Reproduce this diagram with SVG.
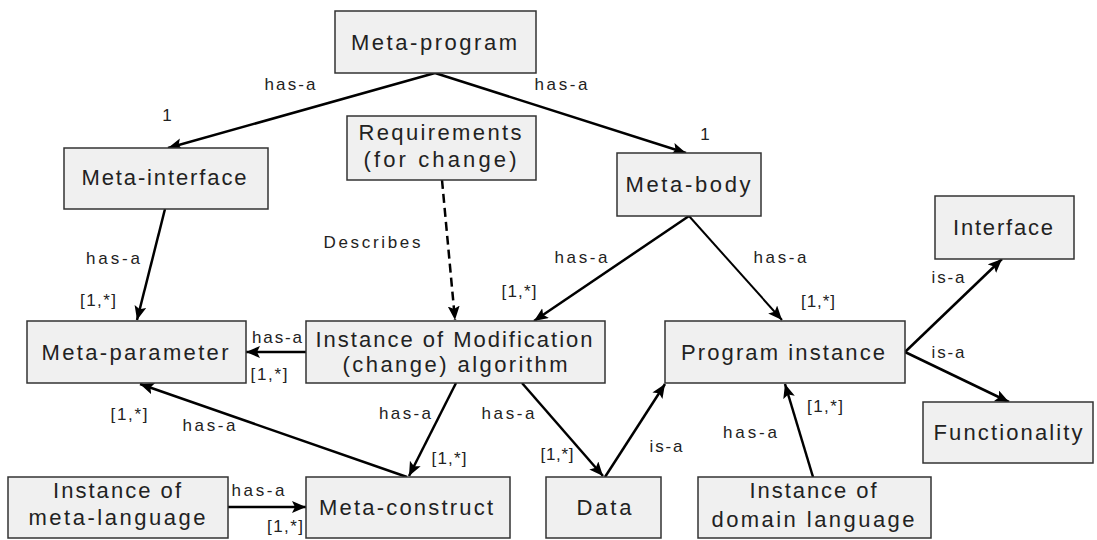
<svg xmlns="http://www.w3.org/2000/svg" width="1097" height="540" viewBox="0 0 1097 540">
<style>
.box{fill:#f0f0f0;stroke:#333;stroke-width:1.5}
.t{font-family:"Liberation Sans",Arial,sans-serif;font-size:22px;fill:#222;text-anchor:middle}
.l{font-family:"Liberation Sans",Arial,sans-serif;font-size:17px;fill:#222;text-anchor:middle}
.c{stroke:#000;stroke-width:2.5;fill:none;marker-end:url(#ah)}
.d{stroke-dasharray:9,5}
</style>
<defs>
<marker id="ah" markerUnits="userSpaceOnUse" markerWidth="16" markerHeight="14" refX="14" refY="6" orient="auto">
<path d="M0,0 L14,6 L0,12 L3,6 Z" fill="#000"/>
</marker>
</defs>
<rect width="1097" height="540" fill="#fff"/>
<g id="connectors">
<line class="c" x1="435" y1="73" x2="168" y2="148"/>
<line class="c" x1="435" y1="73" x2="686" y2="153"/>
<line class="c" x1="165" y1="209" x2="137" y2="320"/>
<line class="c d" x1="442" y1="180" x2="455" y2="320"/>
<line class="c" x1="689" y1="216" x2="534" y2="321"/>
<line class="c" style="stroke-width:2" x1="689" y1="216" x2="782" y2="320"/>
<line class="c" x1="306" y1="352" x2="246" y2="352"/>
<line class="c" x1="407" y1="477" x2="140" y2="384"/>
<line class="c" x1="456" y1="383" x2="409" y2="476"/>
<line class="c" x1="522" y1="383" x2="603" y2="476"/>
<line class="c" x1="605" y1="477" x2="665" y2="384"/>
<line class="c" x1="813" y1="477" x2="785" y2="384"/>
<line class="c" x1="905" y1="352" x2="1002" y2="259"/>
<line class="c" x1="905" y1="352" x2="1009" y2="402"/>
<line class="c" x1="228" y1="507" x2="306" y2="507"/>
</g>
<g id="edge-labels">
<text class="l" x="290" y="90" textLength="51" lengthAdjust="spacing">has-a</text>
<text class="l" x="561" y="90" textLength="53" lengthAdjust="spacing">has-a</text>
<text class="l" x="167" y="121">1</text>
<text class="l" x="705" y="140">1</text>
<text class="l" x="372" y="248" textLength="97" lengthAdjust="spacing">Describes</text>
<text class="l" x="113" y="264" textLength="54" lengthAdjust="spacing">has-a</text>
<text class="l" x="98" y="306" textLength="36" lengthAdjust="spacing">[1,*]</text>
<text class="l" x="581" y="263" textLength="53" lengthAdjust="spacing">has-a</text>
<text class="l" x="780" y="263" textLength="53" lengthAdjust="spacing">has-a</text>
<text class="l" x="519" y="297" textLength="35" lengthAdjust="spacing">[1,*]</text>
<text class="l" x="818" y="307" textLength="34" lengthAdjust="spacing">[1,*]</text>
<text class="l" x="948" y="283" textLength="33" lengthAdjust="spacing">is-a</text>
<text class="l" x="948" y="358" textLength="33" lengthAdjust="spacing">is-a</text>
<text class="l" x="277" y="343" textLength="50" lengthAdjust="spacing">has-a</text>
<text class="l" x="269" y="380" textLength="37" lengthAdjust="spacing">[1,*]</text>
<text class="l" x="129" y="420" textLength="37" lengthAdjust="spacing">[1,*]</text>
<text class="l" x="209" y="431" textLength="53" lengthAdjust="spacing">has-a</text>
<text class="l" x="405" y="419" textLength="52" lengthAdjust="spacing">has-a</text>
<text class="l" x="508" y="419" textLength="53" lengthAdjust="spacing">has-a</text>
<text class="l" x="449" y="464" textLength="35" lengthAdjust="spacing">[1,*]</text>
<text class="l" x="557" y="460" textLength="33" lengthAdjust="spacing">[1,*]</text>
<text class="l" x="666" y="452" textLength="33" lengthAdjust="spacing">is-a</text>
<text class="l" x="750" y="438" textLength="54" lengthAdjust="spacing">has-a</text>
<text class="l" x="825" y="412" textLength="36" lengthAdjust="spacing">[1,*]</text>
<text class="l" x="258" y="496" textLength="53" lengthAdjust="spacing">has-a</text>
<text class="l" x="285" y="532" textLength="36" lengthAdjust="spacing">[1,*]</text>
</g>
<g id="meta-program">
<rect class="box" x="335" y="11" width="201" height="62"/>
<text class="t" x="434" y="50" textLength="166" lengthAdjust="spacing">Meta-program</text>
</g>
<g id="meta-interface">
<rect class="box" x="64" y="148" width="204" height="61"/>
<text class="t" x="164" y="185" textLength="165" lengthAdjust="spacing">Meta-interface</text>
</g>
<g id="requirements">
<rect class="box" x="347" y="116" width="189" height="64"/>
<text class="t" x="440" y="140" textLength="163" lengthAdjust="spacing">Requirements</text>
<text class="t" x="440" y="167" textLength="153" lengthAdjust="spacing">(for change)</text>
</g>
<g id="meta-body">
<rect class="box" x="617" y="153" width="144" height="63"/>
<text class="t" x="688" y="192" textLength="125" lengthAdjust="spacing">Meta-body</text>
</g>
<g id="interface">
<rect class="box" x="935" y="196" width="139" height="63"/>
<text class="t" x="1003" y="235" textLength="100" lengthAdjust="spacing">Interface</text>
</g>
<g id="meta-parameter">
<rect class="box" x="27" y="321" width="219" height="62"/>
<text class="t" x="135" y="360" textLength="187" lengthAdjust="spacing">Meta-parameter</text>
</g>
<g id="modification-algorithm">
<rect class="box" x="306" y="321" width="299" height="62"/>
<text class="t" x="454" y="347" textLength="277" lengthAdjust="spacing">Instance of Modification</text>
<text class="t" x="455" y="372" textLength="225" lengthAdjust="spacing">(change) algorithm</text>
</g>
<g id="program-instance">
<rect class="box" x="665" y="321" width="240" height="62"/>
<text class="t" x="783" y="360" textLength="204" lengthAdjust="spacing">Program instance</text>
</g>
<g id="functionality">
<rect class="box" x="923" y="402" width="170" height="61"/>
<text class="t" x="1008" y="440" textLength="149" lengthAdjust="spacing">Functionality</text>
</g>
<g id="meta-language">
<rect class="box" x="8" y="477" width="220" height="61"/>
<text class="t" x="117" y="498" textLength="128" lengthAdjust="spacing">Instance of</text>
<text class="t" x="117" y="525" textLength="177" lengthAdjust="spacing">meta-language</text>
</g>
<g id="meta-construct">
<rect class="box" x="306" y="477" width="204" height="61"/>
<text class="t" x="406" y="515" textLength="174" lengthAdjust="spacing">Meta-construct</text>
</g>
<g id="data">
<rect class="box" x="546" y="477" width="115" height="61"/>
<text class="t" x="604" y="515" textLength="55" lengthAdjust="spacing">Data</text>
</g>
<g id="domain-language">
<rect class="box" x="698" y="477" width="233" height="61"/>
<text class="t" x="813" y="498" textLength="127" lengthAdjust="spacing">Instance of</text>
<text class="t" x="813" y="527" textLength="203" lengthAdjust="spacing">domain language</text>
</g>
</svg>
